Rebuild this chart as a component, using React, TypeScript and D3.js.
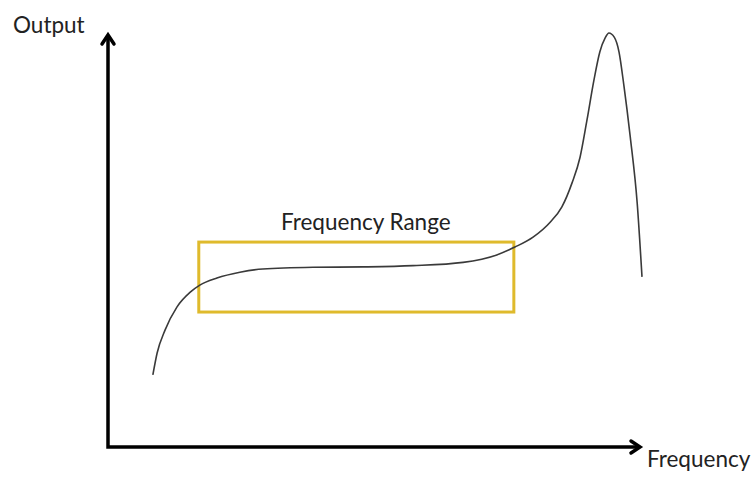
import React from "react";
import * as d3 from "d3";

// Frequency response sketch (arbitrary units, 0-100 on both axes)
const frequency = [8.4, 9.2, 10.7, 12.9, 15.4, 17.2, 20.4, 24.7, 29.0, 38.4, 47.8, 57.1, 66.5, 72.8, 76.2, 79.6, 82.8, 85.0, 86.9, 88.4, 89.7, 91.0, 92.1, 93.1, 93.8, 94.8, 95.7, 96.6, 97.8, 99.1, 100];
const output = [17.4, 22.7, 28.3, 33.8, 37.4, 39.1, 40.8, 42.2, 43.0, 43.4, 43.5, 43.8, 44.6, 46.4, 48.3, 50.7, 54.3, 58.0, 63.8, 70.0, 79.0, 88.6, 95.4, 98.8, 100, 99.0, 95.4, 87.4, 74.9, 58.9, 41.1];

// Highlighted frequency range box (x from/to, y from/to)
const rangeX = [17.0, 76.0];
const rangeY = [32.6, 49.5];

const xLabel = "Frequency";
const yLabel = "Output";
const rangeLabel = "Frequency Range";

const W = 751;
const H = 478;

export default function App() {
  const x = d3.scaleLinear().domain([0, 100]).range([108, 642]);
  const y = d3.scaleLinear().domain([0, 100]).range([447, 33]);

  const pts: [number, number][] = frequency.map((f, i) => [f, output[i]]);
  const line = d3
    .line<[number, number]>()
    .x((d) => x(d[0]))
    .y((d) => y(d[1]))
    .curve(d3.curveMonotoneX);

  const font = "Lato, 'Open Sans', sans-serif";

  const x0 = x(0);
  const y0 = y(0);
  const xEnd = x(100);
  const yEnd = y(100);

  return (
    <svg
      width={W}
      height={H}
      style={{ position: "absolute", left: 0, top: 0, background: "#fff" }}
    >
      {/* Axes */}
      <path
        d={`M${x0},${yEnd + 2} L${x0},${y0} L${xEnd - 2},${y0}`}
        fill="none"
        stroke="#000"
        strokeWidth={3.5}
        strokeLinejoin="miter"
      />
      {/* Y arrow head */}
      <path
        d={`M${x0 - 6},${yEnd + 11} L${x0},${yEnd + 2} L${x0 + 6},${yEnd + 11}`}
        fill="none"
        stroke="#000"
        strokeWidth={3.5}
        strokeLinecap="round"
        strokeLinejoin="miter"
      />
      {/* X arrow head */}
      <path
        d={`M${xEnd - 11},${y0 - 6} L${xEnd - 2},${y0} L${xEnd - 11},${y0 + 6}`}
        fill="none"
        stroke="#000"
        strokeWidth={3.5}
        strokeLinecap="round"
        strokeLinejoin="miter"
      />

      {/* Frequency range box */}
      <rect
        x={x(rangeX[0])}
        y={y(rangeY[1])}
        width={x(rangeX[1]) - x(rangeX[0])}
        height={y(rangeY[0]) - y(rangeY[1])}
        fill="none"
        stroke="#DFBA2C"
        strokeWidth={3}
      />

      {/* Response curve */}
      <path d={line(pts) || ""} fill="none" stroke="#3a3a3a" strokeWidth={1.6} />

      {/* Labels */}
      <text x={13} y={33} fontFamily={font} fontSize={22.5} fill="#222">
        {yLabel}
      </text>
      <text x={647} y={467} fontFamily={font} fontSize={22.5} fill="#222">
        {xLabel}
      </text>
      <text x={281} y={230} fontFamily={font} fontSize={22.5} fill="#222">
        {rangeLabel}
      </text>
    </svg>
  );
}
